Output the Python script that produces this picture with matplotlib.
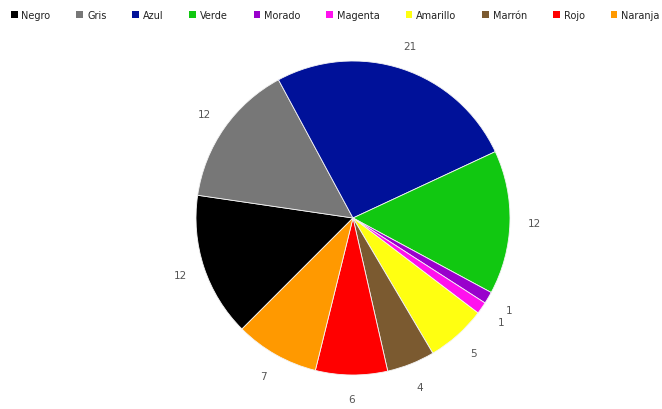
import matplotlib
matplotlib.use("Agg")
import matplotlib.pyplot as plt
from matplotlib.patches import Patch

categories = ["Negro", "Gris", "Azul", "Verde", "Morado", "Magenta", "Amarillo", "Marrón", "Rojo", "Naranja"]
values = [12, 12, 21, 12, 1, 1, 5, 4, 6, 7]
colors = ["#000000", "#777777", "#001199", "#11c811", "#9900cc", "#ff11ee", "#ffff11", "#7b5a30", "#ff0000", "#ff9900"]

fig = plt.figure(figsize=(6.62, 4.10), dpi=100)
ax = fig.add_axes([0, 0, 1, 1])

wedges, texts = ax.pie(values, colors=colors, labels=[str(v) for v in values],
                       startangle=225, counterclock=False, center=(353, 191), radius=157,
                       labeldistance=1.155, frame=True,
                       wedgeprops=dict(edgecolor="#f4f4f4", linewidth=0.6),
                       textprops=dict(fontsize=7.5, color="#555555"))
for t in texts:
    t.set_ha("center")
    t.set_va("center")
ax.set_xlim(0, 662)
ax.set_ylim(0, 410)
ax.set_aspect("equal")
ax.axis("off")

handles = [Patch(facecolor=c, edgecolor="none") for c in colors]
fig.legend(handles, categories, loc="upper left", bbox_to_anchor=(0.006, 0.99), ncol=10,
           frameon=False, fontsize=7, handlelength=0.7, handleheight=0.7,
           handletextpad=0.4, columnspacing=2.65, borderaxespad=0.3,
           labelcolor="#222222")

fig.savefig("out.png", dpi=100)
